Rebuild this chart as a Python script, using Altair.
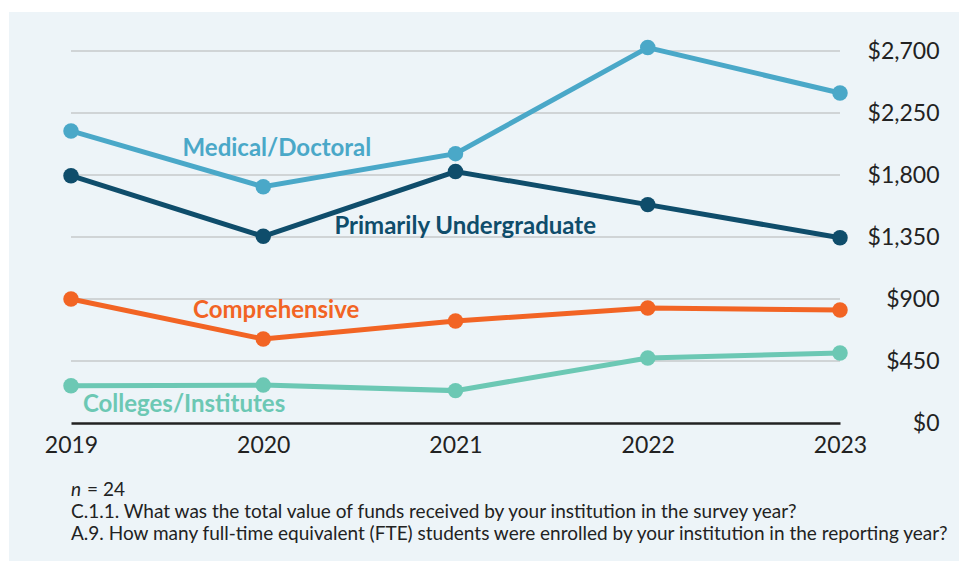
import altair as alt
import pandas as pd

years = [2019, 2020, 2021, 2022, 2023]
series_names = ["Medical/Doctoral", "Primarily Undergraduate", "Comprehensive", "Colleges/Institutes"]
medical = [2120, 1715, 1955, 2725, 2395]
primarily = [1795, 1355, 1825, 1585, 1345]
comprehensive = [900, 610, 740, 835, 820]
colleges = [270, 275, 235, 472, 508]
colors = ["#4aa8c8", "#0f4d6b", "#f26424", "#6cc8b4"]

# label anchors (year, value) for direct series labels
label_years = [2019.58, 2020.37, 2019.635, 2019.062]
label_values = [1990, 1425, 813, 131]

y_ticks = [0, 450, 900, 1350, 1800, 2250, 2700]
grid_ticks = [450, 900, 1350, 1800, 2250, 2700]
note_n = "n"
note_count = "= 24"
note_q1 = "C.1.1. What was the total value of funds received by your institution in the survey year?"
note_q2 = "A.9. How many full-time equivalent (FTE) students were enrolled by your institution in the reporting year?"

rows = []
for name, vals in zip(series_names, [medical, primarily, comprehensive, colleges]):
    for yr, v in zip(years, vals):
        rows.append({"series": name, "year": yr, "value": v})
df = pd.DataFrame(rows)
labels_df = pd.DataFrame({"series": series_names, "year": label_years, "value": label_values})

FONT = "Lato"
W, H = 769, 372

color_scale = alt.Scale(domain=series_names, range=colors)
x_scale = alt.Scale(domain=[2019, 2023], nice=False, zero=False)
y_scale = alt.Scale(domain=[0, 2700], nice=False)
x_enc = alt.X("year:Q", scale=x_scale,
              axis=alt.Axis(values=years, format="d", title=None, grid=False, ticks=False,
                            domainColor="#222222", domainWidth=2.5, labelFontSize=23,
                            labelColor="#222222", labelFont=FONT, labelPadding=11,
                            labelFlush=False, zindex=1))
y_enc = alt.Y("value:Q", scale=y_scale,
              axis=alt.Axis(values=y_ticks, orient="right", title=None, format="$,d",
                            domain=False, ticks=False, grid=False, labelFontSize=23,
                            labelColor="#222222", labelFont=FONT, labelAlign="right",
                            labelPadding=99, labelBaseline="middle", zindex=1))
color_enc = alt.Color("series:N", scale=color_scale, legend=None)

panel = alt.Chart(pd.DataFrame({"a": [0]})).mark_rect(color="#edf4f8").encode(
    x=alt.value(-62), x2=alt.value(900), y=alt.value(-39), y2=alt.value(520)
)

grid = alt.Chart(pd.DataFrame({"g": grid_ticks})).mark_rule(color="#b3b3b3", strokeWidth=1.2).encode(
    y=alt.Y("g:Q", scale=y_scale), x=alt.value(0), x2=alt.value(W)
)

base = alt.Chart(df)
lines = base.mark_line(strokeWidth=5, clip=False).encode(
    x=x_enc, y=y_enc, color=color_enc, detail="series:N",
)
points = base.mark_circle(size=240, opacity=1, clip=False).encode(
    x=alt.X("year:Q", scale=x_scale), y=alt.Y("value:Q", scale=y_scale), color=color_enc,
)
labels = alt.Chart(labels_df).mark_text(
    align="left", baseline="middle", font=FONT, fontSize=24, fontWeight="bold"
).encode(
    x=alt.X("year:Q", scale=x_scale), y=alt.Y("value:Q", scale=y_scale),
    text="series:N", color=color_enc,
)


def note(text, x, y, **kw):
    return alt.Chart(pd.DataFrame({"t": [text]})).mark_text(
        align="left", baseline="alphabetic", font=FONT, fontSize=19, color="#222222", **kw
    ).encode(text="t:N", x=alt.value(x), y=alt.value(y))


notes = [
    note(note_n, 0, 445, fontStyle="italic"),
    note(note_count, 16, 445),
    note(note_q1, 0, 467),
    note(note_q2, 0, 489),
]

chart = alt.layer(panel, grid, lines, points, labels, *notes).properties(
    width=W, height=H,
    autosize=alt.AutoSizeParams(type="none"),
    padding={"left": 63, "top": 43, "right": 119, "bottom": 138},
    background="white",
).configure_view(stroke=None)

chart.save("out.html", embed_options={"renderer": "svg", "actions": False})
